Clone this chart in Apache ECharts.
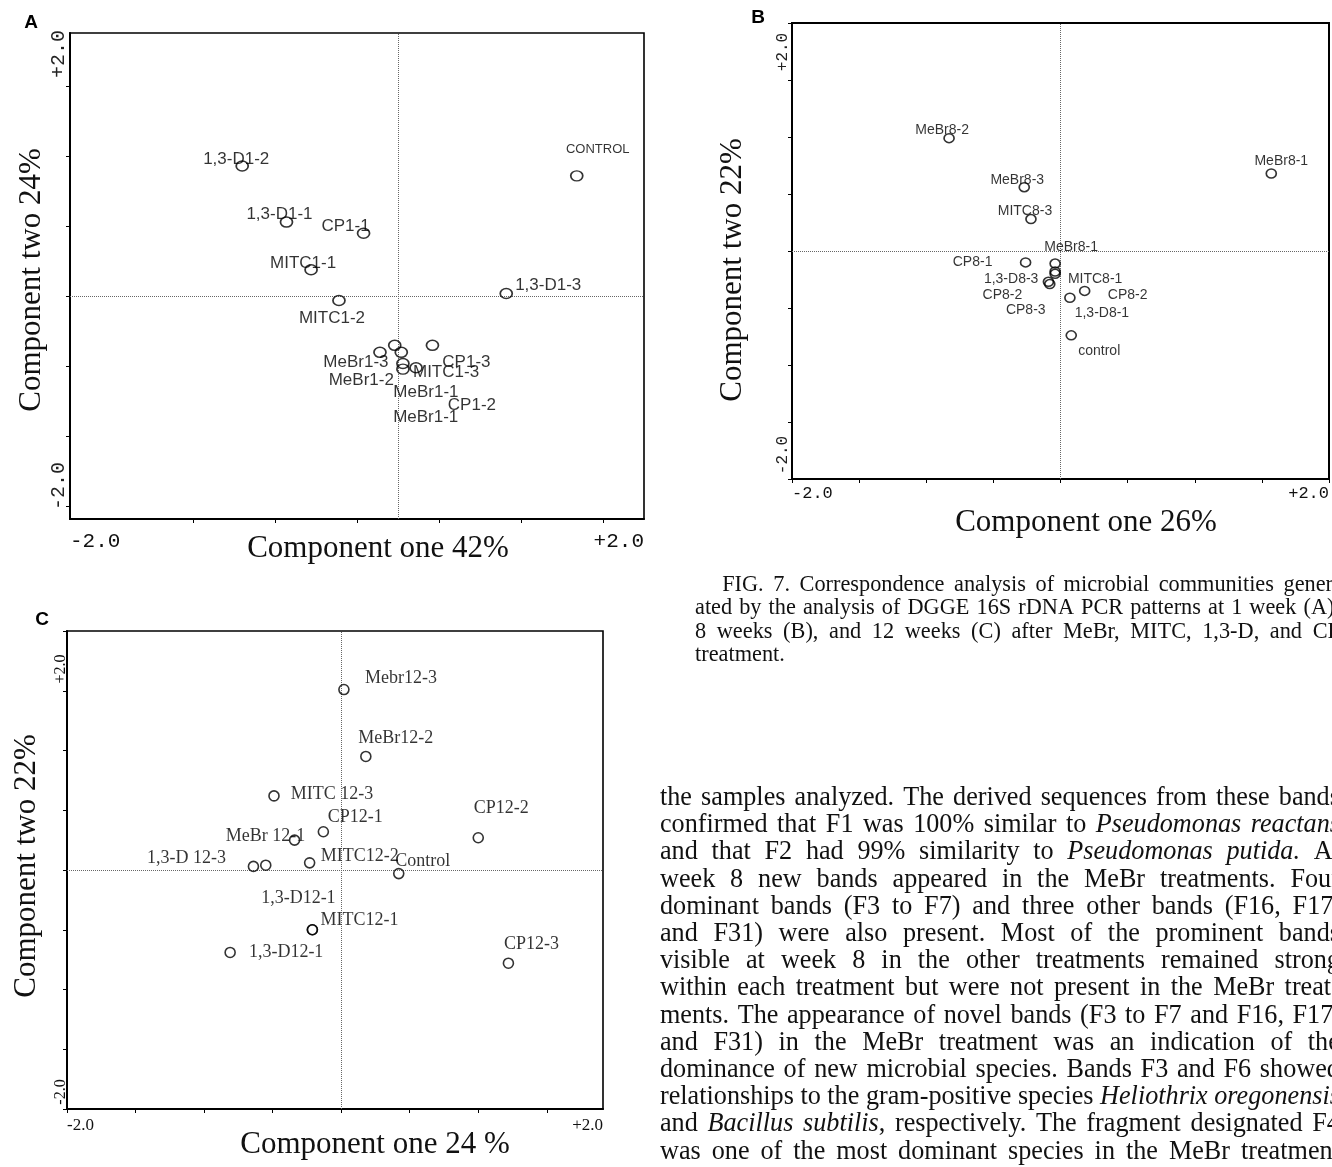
<!DOCTYPE html>
<html>
<head>
<meta charset="utf-8">
<script src="https://cdn.jsdelivr.net/npm/echarts@6/dist/echarts.min.js"></script>
<style>
html, body { margin: 0; padding: 0; background: #fff; overflow: hidden; width: 1332px; height: 1167px; }
#chart { position: absolute; left: 0; top: 0; width: 1332px; height: 1167px; }
.txt { position: absolute; font-family: "Liberation Serif", "Times New Roman", serif; color: #111;
  transform: scaleX(0.97); transform-origin: 0 0; }
.txt .ln { display: flex; justify-content: space-between; white-space: nowrap; }
#caption { left: 695px; top: 572px; width: 665px; font-size: 23px; line-height: 23.3px; }
#caption .ind { padding-left: 28px; }
#bodytext { left: 660px; top: 783px; width: 701px; font-size: 27px; line-height: 27.2px; }
</style>
</head>
<body>
<div id="chart"></div>
<div id="caption" class="txt"></div>
<div id="bodytext" class="txt"></div>
<script>
// panel A - 1 week
const namesA = ['1,3-D1-2', 'CONTROL', '1,3-D1-1', 'CP1-1', 'MITC1-1', '1,3-D1-3', 'MITC1-2',
  'MeBr1-3', 'MeBr1-2', 'CP1-3', 'MITC1-3', 'MeBr1-1', 'CP1-2', 'MeBr1-1'];
const xA = [-0.95, 1.09, -0.68, -0.21, -0.53, 0.66, -0.36, -0.11, 0.02, 0.21, 0.11, 0.03, 0.03, -0.02];
const yA = [0.93, 0.86, 0.53, 0.45, 0.19, 0.02, -0.03, -0.40, -0.40, -0.35, -0.51, -0.52, -0.48, -0.35];

// panel B - 8 weeks
const namesB = ['MeBr8-2', 'MeBr8-1', 'MeBr8-3', 'MITC8-3', 'MeBr8-1', 'CP8-1', 'MITC8-1',
  '1,3-D8-3', 'CP8-2', 'CP8-3', 'CP8-2', '1,3-D8-1', 'control'];
const xB = [-0.83, 1.57, -0.27, -0.22, -0.04, -0.26, -0.04, -0.04, -0.09, -0.08, 0.18, 0.07, 0.08];
const yB = [0.99, 0.68, 0.56, 0.28, -0.11, -0.10, -0.18, -0.20, -0.27, -0.29, -0.35, -0.41, -0.74];

// panel C - 12 weeks
const namesC = ['Mebr12-3', 'MeBr12-2', 'MITC 12-3', 'CP12-1', 'CP12-2', 'MeBr 12-1', '1,3-D 12-3', '',
  'MITC12-2', 'Control', '1,3-D12-1', 'MITC12-1', '1,3-D12-1', 'CP12-3'];
const xC = [0.02, 0.18, -0.49, -0.13, 1.00, -0.34, -0.64, -0.55, -0.23, 0.42, -0.21, -0.21, -0.81, 1.22];
const yC = [1.51, 0.95, 0.62, 0.32, 0.27, 0.25, 0.03, 0.04, 0.06, -0.03, -0.50, -0.50, -0.69, -0.78];

// axis end labels
const xTicksA = ['-2.0', '+2.0'];
const yTicksA = ['+2.0', '-2.0'];
const xTicksB = ['-2.0', '+2.0'];
const yTicksB = ['+2.0', '-2.0'];
const xTicksC = ['-2.0', '+2.0'];
const yTicksC = ['+2.0', '-2.0'];

// label placement (px offsets from the circle), layout only
const offA = [[-6, -7], [21, -26], [-7, -8], [-18, -7], [-8, -6], [42, -8], [-7, 18],
  [-24, 10], [-40, 28], [34, 17], [30, 5], [23, 23], [69, 42], [31, 72]];
const offB = [[-7, -8], [10, -12], [-7, -7], [-6, -8], [16, -16], [-53, 0], [40, 8],
  [-44, 5], [-46, 13], [-24, 26], [43, 4], [32, 15], [28, 16]];
const offC = [[57, -11], [30, -18], [58, -2], [32, -14], [23, -29], [-29, -4], [-67, -8], [0, 0],
  [50, -7], [24, -12], [-14, -31], [47, -9], [56, 0], [23, -19]];

const captionLines = [
  'FIG. 7. Correspondence analysis of microbial communities gener-',
  'ated by the analysis of DGGE 16S rDNA PCR patterns at 1 week (A),',
  '8 weeks (B), and 12 weeks (C) after MeBr, MITC, 1,3-D, and CP',
  'treatment.'
];
const bodyLines = [
  'the samples analyzed. The derived sequences from these bands',
  'confirmed that F1 was 100% similar to _Pseudomonas_ _reactans_',
  'and that F2 had 99% similarity to _Pseudomonas_ _putida._ At',
  'week 8 new bands appeared in the MeBr treatments. Four',
  'dominant bands (F3 to F7) and three other bands (F16, F17,',
  'and F31) were also present. Most of the prominent bands',
  'visible at week 8 in the other treatments remained strong',
  'within each treatment but were not present in the MeBr treat-',
  'ments. The appearance of novel bands (F3 to F7 and F16, F17,',
  'and F31) in the MeBr treatment was an indication of the',
  'dominance of new microbial species. Bands F3 and F6 showed',
  'relationships to the gram-positive species _Heliothrix_ _oregonensis_',
  'and _Bacillus_ _subtilis_, respectively. The fragment designated F4',
  'was one of the most dominant species in the MeBr treatment'
];

function fillText(el, lines, indentFirst) {
  el.innerHTML = lines.map((line, i) => {
    const words = line.split(' ').map(w => '<span>' + w.replace(/_(.*?)_/g, '<i>$1</i>') + '</span>');
    const cls = (indentFirst && i === 0) ? 'ln ind' : 'ln';
    return '<div class="' + cls + '">' + words.join('') + '</div>';
  }).join('');
}
fillText(document.getElementById('caption'), captionLines, true);
fillText(document.getElementById('bodytext'), bodyLines, false);

const chart = echarts.init(document.getElementById('chart'), null, { width: 1332, height: 1167, renderer: 'canvas' });

function buildData(xs, ys, names, offs, extra) {
  return xs.map((x, i) => {
    const label = { offset: offs[i] };
    if (extra) Object.assign(label, extra(names[i]));
    return { value: [x, ys[i]], name: names[i], label: label };
  });
}

const zeroLines = {
  silent: true,
  symbol: 'none',
  label: { show: false },
  lineStyle: { type: 'dotted', color: '#666', width: 1 },
  emphasis: { disabled: true },
  data: [{ xAxis: 0 }, { yAxis: 0 }]
};

function scatter(idx, data, size, font, fontSize) {
  return {
    type: 'scatter',
    xAxisIndex: idx,
    yAxisIndex: idx,
    symbol: 'circle',
    symbolSize: size,
    itemStyle: { color: 'rgba(255,255,255,0)', borderColor: '#000', borderWidth: 1.6 },
    label: {
      show: true,
      position: 'inside',
      formatter: '{b}',
      color: '#000',
      fontFamily: font,
      fontSize: fontSize,
      align: 'center',
      verticalAlign: 'middle'
    },
    emphasis: { disabled: true },
    markLine: zeroLines,
    data: data,
    z: 5
  };
}

function xAxisDef(idx, min, max, ticks, labels, font, fontSize, margin) {
  return {
    gridIndex: idx, type: 'value', min: min, max: max,
    axisLine: { show: true, onZero: false, lineStyle: { color: '#000', width: 2 } },
    axisTick: { show: true, customValues: ticks, length: 4, lineStyle: { color: '#000', width: 1 } },
    axisLabel: {
      show: true, customValues: [min, max], margin: margin,
      formatter: v => (v < 0 ? labels[0] : labels[1]),
      alignMinLabel: 'left', alignMaxLabel: 'right',
      color: '#111', fontFamily: font, fontSize: fontSize
    },
    splitLine: { show: false }
  };
}

function yAxisDef(idx, min, max, ticks) {
  return {
    gridIndex: idx, type: 'value', min: min, max: max,
    axisLine: { show: true, onZero: false, lineStyle: { color: '#000', width: 2 } },
    axisTick: { show: true, customValues: ticks, length: 4, lineStyle: { color: '#000', width: 1 } },
    axisLabel: { show: false },
    splitLine: { show: false }
  };
}

const halfSteps = [-2, -1.5, -1, -0.5, 0, 0.5, 1, 1.5, 2];
const serifTitle = { fontFamily: '"Liberation Serif", serif', fontSize: 31, fill: '#111' };

function txt(x, y, text, style, rot) {
  return {
    type: 'text', x: x, y: y, rotation: rot || 0, silent: true,
    style: Object.assign({ text: text, align: 'center', verticalAlign: 'middle',
      textAlign: 'center', textVerticalAlign: 'middle' }, style)
  };
}
const R = Math.PI / 2;
const monoA = { fontFamily: '"Liberation Mono", monospace', fontSize: 20, fill: '#222' };
const monoB = { fontFamily: '"Liberation Mono", monospace', fontSize: 16, fill: '#222' };
const serifC = { fontFamily: '"Liberation Serif", serif', fontSize: 16, fill: '#111' };
const letter = { fontFamily: '"Liberation Sans", Arial, sans-serif', fontSize: 19, fontWeight: 'bold', fill: '#000' };

const option = {
  animation: false,
  backgroundColor: '#fff',
  grid: [
    { left: 70, top: 33, width: 574, height: 486, show: true, borderColor: '#000', borderWidth: 1.6, backgroundColor: 'transparent' },
    { left: 792, top: 23, width: 542, height: 456, show: true, borderColor: '#000', borderWidth: 2, backgroundColor: 'transparent' },
    { left: 67, top: 631, width: 536, height: 478, show: true, borderColor: '#000', borderWidth: 1.6, backgroundColor: 'transparent' }
  ],
  xAxis: [
    xAxisDef(0, -2, 1.5, [-1.25, -0.75, -0.25, 0.25, 0.75, 1.25], xTicksA, '"Liberation Mono", monospace', 21, 12),
    xAxisDef(1, -2, 2, halfSteps, xTicksB, '"Liberation Mono", monospace', 17, 6),
    xAxisDef(2, -2, 1.91, [-2, -1.5, -1, -0.5, 0, 0.5, 1, 1.5], xTicksC, '"Liberation Serif", serif', 17, 8)
  ],
  yAxis: [
    yAxisDef(0, -1.59, 1.88, [-1.5, -1, -0.5, 0, 0.5, 1, 1.5]),
    yAxisDef(1, -2, 2, halfSteps),
    yAxisDef(2, -2, 2, halfSteps)
  ],
  series: [
    scatter(0, buildData(xA, yA, namesA, offA, n => (n === 'CONTROL' ? { fontSize: 13 } : {})),
      [12, 10], '"Liberation Sans", Arial, sans-serif', 17),
    scatter(1, buildData(xB, yB, namesB, offB), [10, 9], '"Liberation Sans", Arial, sans-serif', 14),
    scatter(2, buildData(xC, yC, namesC, offC), [10, 10], '"Liberation Serif", serif', 18)
  ],
  graphic: [
    txt(31, 23, 'A', letter),
    txt(758, 18, 'B', letter),
    txt(42, 620, 'C', letter),
    txt(378, 549, 'Component one 42%', serifTitle),
    txt(32, 280, 'Component two 24%', serifTitle, R),
    txt(1086, 523, 'Component one 26%', serifTitle),
    txt(733, 270, 'Component two 22%', serifTitle, R),
    txt(375, 1145, 'Component one 24 %', serifTitle),
    txt(27, 866, 'Component two 22%', serifTitle, R),
    txt(59, 54, yTicksA[0], monoA, R),
    txt(59, 486, yTicksA[1], monoA, R),
    txt(783, 52, yTicksB[0], monoB, R),
    txt(783, 455, yTicksB[1], monoB, R),
    txt(61, 669, yTicksC[0], serifC, R),
    txt(61, 1092, yTicksC[1], serifC, R)
  ]
};

chart.setOption(option);
</script>
</body>
</html>
